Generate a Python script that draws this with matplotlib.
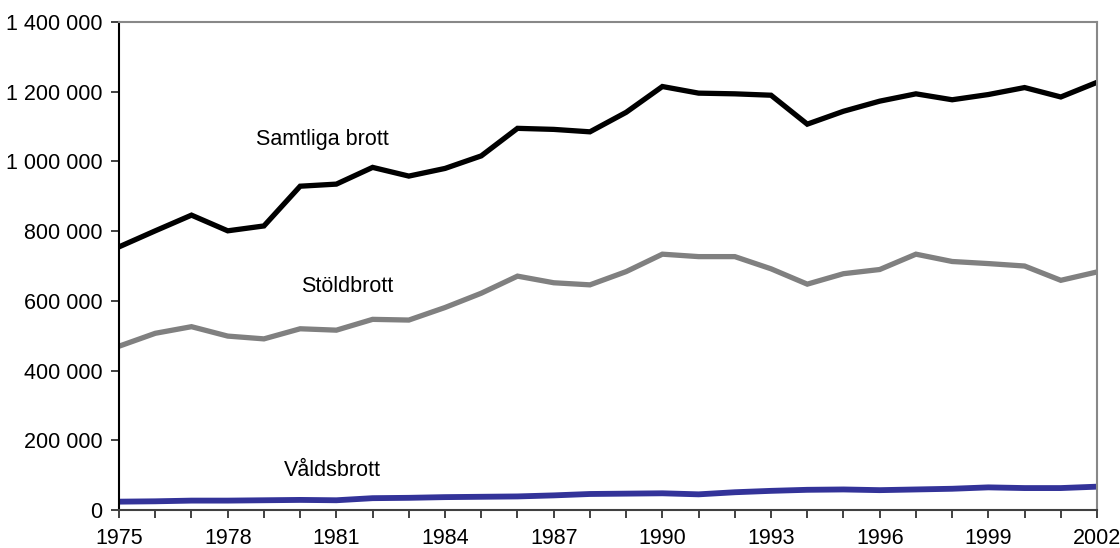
import numpy as np
import matplotlib.pyplot as plt
from matplotlib.ticker import FuncFormatter, MultipleLocator

plt.rcParams['font.family'] = ['Liberation Sans', 'DejaVu Sans']

# Data
years = np.arange(1975, 2003)
samtliga = [755000, 801000, 846000, 801000, 815000, 929000, 935000, 983000, 958000, 980000,
            1016000, 1095000, 1092000, 1085000, 1141000, 1215000, 1196000, 1194000, 1190000, 1107000,
            1144000, 1173000, 1194000, 1177000, 1192000, 1212000, 1185000, 1227000]
stold = [470000, 507000, 526000, 499000, 491000, 520000, 516000, 547000, 545000, 581000,
         622000, 671000, 652000, 646000, 684000, 734000, 727000, 727000, 692000, 648000,
         678000, 690000, 734000, 713000, 707000, 700000, 659000, 683000]
vald = [24000, 25000, 27000, 27000, 28000, 29000, 28000, 34000, 35000, 37000,
        38000, 39000, 42000, 46000, 47000, 48000, 45000, 51000, 55000, 58000,
        59000, 57000, 59000, 61000, 65000, 63000, 63000, 67000]
labels = ['Samtliga brott', 'Stöldbrott', 'Våldsbrott']

fig = plt.figure(figsize=(11.2, 5.48), dpi=100)
ax = fig.add_axes([0.1063, 0.0693, 0.8732, 0.8905])

ax.plot(years, samtliga, color='black', lw=3.8, solid_joinstyle='miter')
ax.plot(years, stold, color='#808080', lw=3.8, solid_joinstyle='miter')
ax.plot(years, vald, color='#333399', lw=4.2, solid_joinstyle='miter')

ax.text(1980.6, 1064000, labels[0], fontsize=15.5, ha='center', va='center')
ax.text(1981.3, 642000, labels[1], fontsize=15.5, ha='center', va='center')
ax.text(1980.9, 112000, labels[2], fontsize=15.5, ha='center', va='center')

ax.set_xlim(1975, 2002)
ax.set_ylim(0, 1400000)
ax.set_xticks(years[::3])
ax.xaxis.set_minor_locator(MultipleLocator(1))
ax.yaxis.set_major_locator(MultipleLocator(200000))
ax.yaxis.set_major_formatter(FuncFormatter(lambda v, p: f'{int(v):,}'.replace(',', ' ')))

ax.tick_params(axis='both', which='both', direction='out', length=6, width=1.3,
               labelsize=15.5, color='#333333')
ax.tick_params(axis='x', pad=7)
ax.tick_params(axis='y', pad=6)

ax.spines['left'].set_color('black')
ax.spines['left'].set_linewidth(1.5)
ax.spines['bottom'].set_color('#404040')
ax.spines['bottom'].set_linewidth(1.5)
ax.spines['top'].set_color('#888888')
ax.spines['right'].set_color('#888888')
ax.spines['top'].set_linewidth(1.5)
ax.spines['right'].set_linewidth(1.5)

fig.savefig('out.png', dpi=100)
